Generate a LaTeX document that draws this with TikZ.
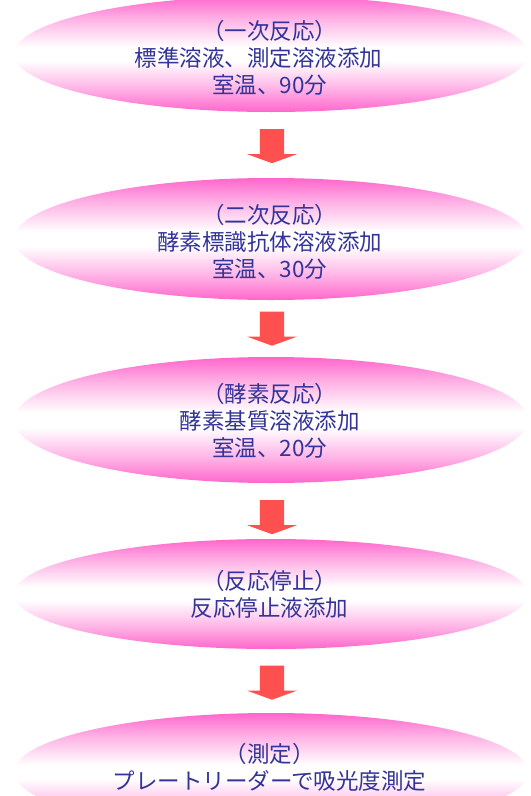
\documentclass[tikz,border=0pt]{standalone}
\usepackage{fontspec}
\setmainfont{Noto Sans CJK JP}
\usetikzlibrary{shapes.geometric,shapes.arrows}
\definecolor{pk}{RGB}{255,102,204}
\colorlet{pkl}{pk!50!white}
\definecolor{txt}{RGB}{51,51,153}
\definecolor{arr}{RGB}{255,80,80}
\pgfdeclareverticalshading{ovalshade}{100bp}{color(0bp)=(pk); color(25bp)=(pk); color(35bp)=(pkl); color(47bp)=(white); color(53bp)=(white); color(65bp)=(pkl); color(75bp)=(pk); color(100bp)=(pk)}
\tikzset{
  oval/.style={ellipse, shade, shading=ovalshade, draw=none, inner sep=0pt,
    minimum width=514bp},
  steptext/.style={text=txt, align=center, inner sep=0pt,
    font=\fontsize{22.5bp}{27bp}\selectfont},
  downarrow/.style={single arrow, fill=arr, draw=none, rotate=-90,
    inner xsep=0pt, inner ysep=12bp, single arrow head extend=12.5bp,
    single arrow tip angle=140, minimum height=34bp}
}
\begin{document}
\begin{tikzpicture}[x=1bp,y=-1bp]
\clip (0,0) rectangle (531,796);
\fill[white] (0,0) rectangle (531,796);
\node[oval, minimum height=116bp] (e1) at (271,54) {};
\node[oval, minimum height=122bp] (e2) at (271,239) {};
\node[oval, minimum height=126bp] (e3) at (271,420) {};
\node[oval, minimum height=110bp] (e4) at (271,594) {};
\node[oval, minimum height=118bp] (e5) at (271,772) {};
\node[steptext] (t1) at (269.5,57.5) {（一次反応）\\標準溶液、測定溶液添加\hphantom{加}\\室温、90分};
\node[steptext] (t2) at (269.5,242) {（二次反応）\\酵素標識抗体溶液添加\\室温、30分};
\node[steptext] (t3) at (269.5,421) {（酵素反応）\\酵素基質溶液添加\\室温、20分};
\node[steptext] (t4) at (269.5,594) {（反応停止）\\反応停止液添加};
\node[steptext] (t5) at (269.5,767.5) {（測定）\\プレートリーダーで吸光度測定};
\node[downarrow] (a1) at (272,144) {};
\node[downarrow] (a2) at (272,326.5) {};
\node[downarrow] (a3) at (272,515) {};
\node[downarrow] (a4) at (272,680.5) {};
\end{tikzpicture}
\end{document}
